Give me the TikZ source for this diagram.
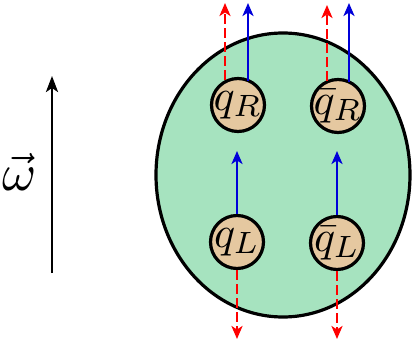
\documentclass[tikz,border=0pt]{standalone}
\usepackage{graphicx}
\usetikzlibrary{arrows.meta,shapes.geometric}
\definecolor{mint}{RGB}{166,227,191}
\definecolor{quarktan}{RGB}{229,200,160}
\newcommand{\qlab}[1]{\scalebox{4.4}{$#1$}}
\begin{document}
\begin{tikzpicture}[x=1pt,y=-1pt,
  quark/.style={circle,draw=black,line width=3.2pt,fill=quarktan,minimum size=53pt,inner sep=0pt},
  redarr/.style={draw=red,line width=2.8pt,dash pattern=on 10pt off 4pt,-{Stealth[length=13pt,width=11pt,inset=3.5pt]}},
  bluearr/.style={draw=blue!85!black,line width=2.8pt,-{Stealth[length=13pt,width=11pt,inset=3.5pt]}},
  blackarr/.style={draw=black,line width=2.8pt,-{Stealth[length=16pt,width=12pt,inset=4pt]}}]
\useasboundingbox (0,0) rectangle (413,345);
\node[ellipse,draw=black,line width=3.2pt,fill=mint,minimum width=254pt,minimum height=284pt,inner sep=0pt] (ball) at (283,175) {};
\node[quark] (qR) at (238,105) {};
\node[quark] (qbR) at (338,106) {};
\node[quark] (qL) at (237,242) {};
\node[quark] (qbL) at (337,243) {};
\node (tqR) at (qR) {\qlab{q_R}};
\node (tqbR) at (qbR) {\qlab{\bar q_R}};
\node (tqL) at (qL) {\qlab{q_L}};
\node (tqbL) at (qbL) {\qlab{\bar q_L}};
\coordinate (rR1) at (225,3);
\coordinate (bR1) at (248,3);
\coordinate (rR2) at (327,5);
\coordinate (bR2) at (349,3);
\coordinate (bL1) at (237,151);
\coordinate (bL2) at (337,151);
\coordinate (rL1) at (237,339);
\coordinate (rL2) at (337,339);
\draw[redarr] (qR.north -| rR1) ++(0,3) -- (rR1);
\draw[bluearr] (qR.north -| bR1) ++(0,4) -- (bR1);
\draw[redarr] (qbR.north -| rR2) ++(0,3) -- (rR2);
\draw[bluearr] (qbR.north -| bR2) ++(0,4) -- (bR2);
\draw[bluearr] (qL.north) -- (bL1);
\draw[bluearr] (qbL.north) -- (bL2);
\draw[redarr] (qL.south) -- (rL1);
\draw[redarr] (qbL.south) -- (rL2);
\coordinate (wb) at (52,273);
\coordinate (wt) at (52,76);
\draw[blackarr] (wb) -- (wt);
\node (om) at (20,172) {\scalebox{5.2}{$\vec\omega$}};
\end{tikzpicture}
\end{document}
